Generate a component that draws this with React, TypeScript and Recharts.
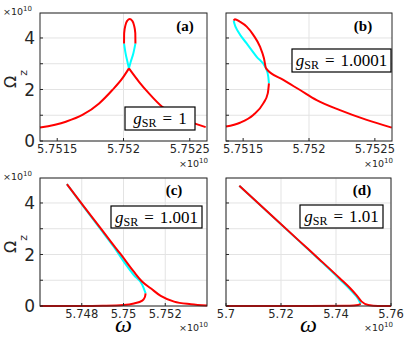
import { LineChart, Line, XAxis, YAxis, CartesianGrid, ReferenceLine } from "recharts";

type Pt = [number, number];

// omega and Omega_z, both in units of 1e10
const Y_TICKS = [0, 1, 2, 3, 4];

const A_X_TICKS = [5.7515, 5.752, 5.7525];
const B_X_TICKS = [5.7515, 5.752, 5.7525];
const C_X_TICKS = [5.748, 5.75, 5.752];
const D_X_TICKS = [5.7, 5.72, 5.74, 5.76];

// (a) g_SR = 1
const A_RED_LEFT: Pt[] = [
  [5.75137, 0.52], [5.751565, 0.75], [5.75169, 1.01], [5.751816, 1.46],
  [5.751916, 1.98], [5.751991, 2.43], [5.752041, 2.82],
];
const A_RED_RIGHT: Pt[] = [
  [5.752041, 2.82], [5.752117, 2.3], [5.752192, 1.85], [5.752292, 1.33],
  [5.75238, 1.05], [5.752492, 0.77], [5.75262, 0.54],
];
const A_RED_LOOP: Pt[] = [
  [5.752004, 3.79], [5.752005, 4.19], [5.752015, 4.5], [5.75203, 4.68],
  [5.752047, 4.74], [5.752064, 4.68], [5.752079, 4.5], [5.752089, 4.19], [5.75209, 3.79],
];
const A_CYAN_LEFT: Pt[] = [
  [5.752004, 3.79], [5.752015, 3.42], [5.75203, 3.07], [5.752041, 2.82],
];
const A_CYAN_RIGHT: Pt[] = [
  [5.752041, 2.82], [5.752054, 3.07], [5.752075, 3.42], [5.75209, 3.79],
];

// (b) g_SR = 1.0001
const B_RED_LOW: Pt[] = [
  [5.75137, 0.56], [5.751476, 0.71], [5.751577, 1.01], [5.751653, 1.46],
  [5.751687, 1.85], [5.751696, 2.24],
];
const B_CYAN: Pt[] = [
  [5.751428, 4.68], [5.751433, 4.57], [5.751463, 4.24], [5.751527, 3.79],
  [5.751603, 3.27], [5.751674, 2.82], [5.751691, 2.49], [5.751696, 2.24],
];
const B_RED_HIGH: Pt[] = [
  [5.751428, 4.68], [5.751438, 4.73], [5.751476, 4.63], [5.751527, 4.44],
  [5.751577, 4.12], [5.751628, 3.66], [5.751658, 3.21], [5.751674, 2.82],
  [5.751805, 2.37], [5.751932, 1.98], [5.752058, 1.59], [5.752235, 1.2],
  [5.752438, 0.82], [5.752628, 0.52],
];

// (c) g_SR = 1.001
const C_RED_LOW: Pt[] = [
  [5.746, 0], [5.748, 0], [5.749, 0.01], [5.75, 0.04], [5.7505, 0.1],
  [5.7509, 0.21], [5.751026, 0.35], [5.75106, 0.49],
];
const C_CYAN: Pt[] = [
  [5.747287, 4.73], [5.748087, 3.86], [5.748891, 2.99], [5.749532, 2.3],
  [5.750014, 1.72], [5.750496, 1.2], [5.750901, 0.82], [5.75106, 0.49],
];
const C_RED_HIGH: Pt[] = [
  [5.747287, 4.73], [5.748087, 3.88], [5.748891, 3.03], [5.749373, 2.52],
  [5.749855, 2.02], [5.750496, 1.33], [5.750901, 0.94], [5.751301, 0.69],
  [5.751783, 0.39], [5.752424, 0.17], [5.753229, 0.07], [5.754, 0.02],
];

// (d) g_SR = 1.01
const D_RED_LOW: Pt[] = [
  [5.7, 0], [5.73, 0], [5.745, 0.01], [5.748, 0.04], [5.74898, 0.08],
];
const D_CYAN: Pt[] = [
  [5.70484, 4.67], [5.72691, 2.49], [5.74145, 1.03], [5.74582, 0.56],
  [5.7481, 0.27], [5.74898, 0.08],
];
const D_RED_HIGH: Pt[] = [
  [5.70484, 4.67], [5.716, 3.57], [5.72691, 2.5], [5.73418, 1.79],
  [5.74145, 1.07], [5.74509, 0.7], [5.74752, 0.41], [5.74934, 0.17],
  [5.75174, 0.04], [5.75527, 0], [5.76, 0],
];

const RED = "#ff0000";
const CYAN = "#00ffff";
const INK = "#262626";
const GRID = "#e3e3e3";
const SANS = "'DejaVu Sans', sans-serif";
const SERIF = "'Liberation Serif', 'Times New Roman', serif";

const rows = (pts: Pt[]) => pts.map(([w, o]) => ({ w, o }));

type Series = { pts: Pt[]; color: string };

type PanelProps = {
  left: number;
  top: number;
  w: number;
  h: number;
  xDomain: [number, number];
  xTicks: number[];
  topTicks?: number[];
  gridAt?: number;
  yLabels: boolean;
  series: Series[];
};

const AX_W = 36;
const AX_H = 30;
const TOP_H = 6;
const RIGHT_W = 6;
const EXTRA = 16;

function Panel({ left, top, w, h, xDomain, xTicks, topTicks, gridAt, yLabels, series }: PanelProps) {
  const empty = () => "";
  return (
    <div style={{ position: "absolute", left: left - AX_W, top: top - TOP_H }}>
      <LineChart
        width={AX_W + w + RIGHT_W + EXTRA}
        height={TOP_H + h + AX_H}
        margin={{ top: 0, right: EXTRA, left: 0, bottom: 0 }}
      >
        <CartesianGrid stroke={GRID} vertical={gridAt === undefined} />
        {gridAt !== undefined && <ReferenceLine x={gridAt} stroke={GRID} />}
        <XAxis
          dataKey="w"
          type="number"
          domain={xDomain}
          ticks={xTicks}
          interval={0}
          height={AX_H}
          axisLine={false}
          tickSize={-3}
          tickMargin={7}
          tickLine={{ stroke: INK }}
          tick={{ fontSize: 11.5, fill: INK, fontFamily: SANS }}
          tickFormatter={(v: number) => String(v)}
        />
        <XAxis
          xAxisId="t"
          orientation="top"
          dataKey="w"
          type="number"
          domain={xDomain}
          ticks={topTicks ?? xTicks}
          interval={0}
          height={TOP_H}
          axisLine={false}
          tickSize={-3}
          tickLine={{ stroke: INK }}
          tickFormatter={empty}
        />
        <YAxis
          type="number"
          domain={[0, 4.97]}
          ticks={Y_TICKS}
          interval={0}
          width={AX_W}
          axisLine={false}
          tickSize={-3}
          tickMargin={8}
          tickLine={{ stroke: INK }}
          tick={{ fontSize: 17, fill: INK, fontFamily: SANS }}
          tickFormatter={(v: number) => (yLabels && v % 2 === 0 ? String(v) : "")}
        />
        <YAxis
          yAxisId="r"
          orientation="right"
          type="number"
          domain={[0, 4.97]}
          ticks={Y_TICKS}
          interval={0}
          width={RIGHT_W}
          axisLine={false}
          tickSize={-3}
          tickLine={{ stroke: INK }}
          tickFormatter={empty}
        />
        {series.map((s, i) => (
          <Line
            key={i}
            data={rows(s.pts)}
            dataKey="o"
            type="monotone"
            stroke={s.color}
            strokeWidth={2}
            dot={false}
            isAnimationActive={false}
          />
        ))}
      </LineChart>
    </div>
  );
}

function GsrBox({ x, y, w, h, value }: { x: number; y: number; w: number; h: number; value: string }) {
  return (
    <g>
      <rect x={x} y={y} width={w} height={h} fill="#fff" stroke="#000" strokeWidth={1.2} />
      <text x={x + w / 2} y={y + 16.5} textAnchor="middle" fontFamily={SERIF} fontSize={17} fill="#000">
        <tspan fontStyle="italic">g</tspan>
        <tspan fontSize={12} dy={3}>SR</tspan>
        <tspan dy={-3} dx={6}>=</tspan>
        <tspan dx={6}>{value}</tspan>
      </text>
    </g>
  );
}

function Exp({ x, y, anchor }: { x: number; y: number; anchor: "start" | "end" }) {
  return (
    <text x={x} y={y} textAnchor={anchor} fontFamily={SANS} fontSize={9.5} fill={INK}>
      ×10<tspan fontSize={7} dy={-4.5}>10</tspan>
    </text>
  );
}

function OmegaZ({ y }: { y: number }) {
  return (
    <text transform={`translate(15.5, ${y}) rotate(-90)`} fontFamily={SANS} fontSize={16} fill={INK}>
      Ω<tspan fontSize={11} dy={11}>z</tspan>
    </text>
  );
}

const PANELS = [
  { left: 40, top: 13, w: 167, h: 128 },
  { left: 226, top: 13, w: 166, h: 128 },
  { left: 40, top: 178, w: 167, h: 128 },
  { left: 226, top: 178, w: 165, h: 128 },
];

export default function App() {
  const [pa, pb, pc, pd] = PANELS;
  return (
    <div style={{ position: "absolute", left: 0, top: 0, width: 409, height: 339, background: "#fff", overflow: "hidden" }}>
      <Panel
        {...pa}
        xDomain={[5.75137, 5.75263]}
        xTicks={A_X_TICKS}
        topTicks={[5.752]}
        gridAt={5.752}
        yLabels
        series={[
          { pts: A_CYAN_LEFT, color: CYAN },
          { pts: A_CYAN_RIGHT, color: CYAN },
          { pts: A_RED_LEFT, color: RED },
          { pts: A_RED_RIGHT, color: RED },
          { pts: A_RED_LOOP, color: RED },
        ]}
      />
      <Panel
        {...pb}
        xDomain={[5.75137, 5.75263]}
        xTicks={B_X_TICKS}
        topTicks={[5.752]}
        gridAt={5.752}
        yLabels={false}
        series={[
          { pts: B_CYAN, color: CYAN },
          { pts: B_RED_LOW, color: RED },
          { pts: B_RED_HIGH, color: RED },
        ]}
      />
      <Panel
        {...pc}
        xDomain={[5.746, 5.754]}
        xTicks={C_X_TICKS}
        yLabels
        series={[
          { pts: C_CYAN, color: CYAN },
          { pts: C_RED_LOW, color: RED },
          { pts: C_RED_HIGH, color: RED },
        ]}
      />
      <Panel
        {...pd}
        xDomain={[5.7, 5.76]}
        xTicks={D_X_TICKS}
        yLabels={false}
        series={[
          { pts: D_CYAN, color: CYAN },
          { pts: D_RED_LOW, color: RED },
          { pts: D_RED_HIGH, color: RED },
        ]}
      />
      <svg width={409} height={339} style={{ position: "absolute", left: 0, top: 0, pointerEvents: "none" }}>
        {PANELS.map((p, i) => (
          <rect key={i} x={p.left} y={p.top} width={p.w} height={p.h} fill="none" stroke={INK} strokeWidth={1} />
        ))}
        <GsrBox x={125} y={107} w={70} h={23} value="1" />
        <GsrBox x={292} y={49} w={99} h={23} value="1.0001" />
        <GsrBox x={111} y={206} w={91} h={22} value="1.001" />
        <GsrBox x={300} y={205} w={83} h={23} value="1.01" />
        <g fontFamily={SERIF} fontSize={15} fontWeight="bold" fill="#000" textAnchor="middle">
          <text x={185} y={31}>(a)</text>
          <text x={363} y={31}>(b)</text>
          <text x={174} y={195}>(c)</text>
          <text x={362} y={195}>(d)</text>
        </g>
        <Exp x={3} y={15} anchor="start" />
        <Exp x={3} y={180} anchor="start" />
        <Exp x={208} y={167} anchor="end" />
        <Exp x={393} y={167} anchor="end" />
        <Exp x={208} y={331} anchor="end" />
        <Exp x={393} y={331} anchor="end" />
        <OmegaZ y={88} />
        <OmegaZ y={253} />
        <g fontFamily={SERIF} fontSize={24} fontStyle="italic" fill="#000" textAnchor="middle">
          <text x={123.5} y={332}>ω</text>
          <text x={308.5} y={332}>ω</text>
        </g>
      </svg>
    </div>
  );
}
